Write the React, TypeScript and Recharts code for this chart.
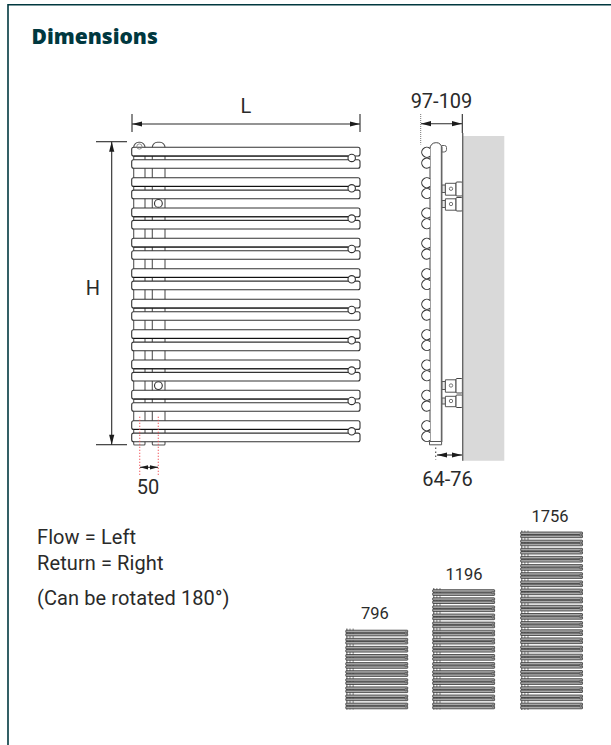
import React from 'react';
import { ComposedChart, XAxis, YAxis, Scatter, ReferenceArea, ReferenceLine, ReferenceDot } from 'recharts';

const INK = '#333333';
const TEXT = '#2a2a2a';
const TEAL = '#00383f';
const RED = '#f0474d';

// front elevation, top of each pair of rails
const railTops = [147.3, 177.7, 208, 238.3, 268.7, 299.3, 329.7, 360, 390.3, 420.7];
const railLeft = 131.7;
const railRight = 360;
const columns = [[133.7, 145], [152.3, 165]];
const valveDots = [{ x: 158.4, y: 203.4 }, { x: 158.4, y: 385.6 }];

// small elevations, top of each pair of rails
const mini796 = [630.2, 638.3, 646.4, 654.5, 662.6, 670.7, 678.8, 686.9, 695, 703.1];
const mini1196 = [589.7, 597.8, 605.9, 614, 622.1, 630.2, 638.3, 646.4, 654.5, 662.6, 670.7, 678.8, 686.9, 695, 703.1];
const mini1756 = [532, 540.1, 548.3, 556.4, 564.6, 572.7, 580.9, 589, 597.2, 605.3, 613.5, 621.6, 629.8, 637.9, 646.1, 654.2, 662.4, 670.5, 678.7, 686.8, 695, 703.1];

// side elevation
const bracketRows = [[182, 195.5], [197.5, 210.5], [378.5, 392.5], [395, 407]];

const dimensionLines = [
  [132, 114, 132, 132], [360, 114, 360, 132], [132, 124, 360, 124],
  [96, 141.7, 127, 141.7], [96, 444.7, 127, 444.7], [111.7, 141.7, 111.7, 444.7],
  [140, 467.3, 158, 467.3],
  [462.3, 114, 462.3, 133], [421, 123.7, 462, 123.7],
  [437, 455, 462, 455],
];
const arrowHeads = [
  { x: 132, y: 124, dir: 'left' }, { x: 360, y: 124, dir: 'right' },
  { x: 111.7, y: 141.7, dir: 'up' }, { x: 111.7, y: 444.7, dir: 'down' },
  { x: 140, y: 467.3, dir: 'left', size: 0.8 }, { x: 158, y: 467.3, dir: 'right', size: 0.8 },
  { x: 421, y: 123.7, dir: 'left' }, { x: 462, y: 123.7, dir: 'right' },
  { x: 437, y: 455, dir: 'left' }, { x: 462, y: 455, dir: 'right' },
];
const redGuides = [139.7, 158.3];

const labels = [
  { x: 246, y: 106, text: 'L', size: 20 },
  { x: 93, y: 288, text: 'H', size: 20 },
  { x: 148, y: 487, text: '50', size: 20 },
  { x: 441.5, y: 101, text: '97-109', size: 20 },
  { x: 447.5, y: 479, text: '64-76', size: 20 },
  { x: 375, y: 613, text: '796', size: 16.5 },
  { x: 464, y: 574, text: '1196', size: 16.5 },
  { x: 550, y: 516, text: '1756', size: 16.5 },
];
const notes = [
  { y: 536.5, text: 'Flow = Left' },
  { y: 563, text: 'Return = Right' },
  { y: 598, text: '(Can be rotated 180°)' },
];

const textAt = (item: any, anchor: string, family: string, fill: string, weight = 400, spacing = 0) => (
  <ReferenceDot
    key={item.text}
    x={item.x}
    y={item.y}
    r={0}
    shape={(p: any) => (
      <text x={p.cx} y={p.cy} textAnchor={anchor} dominantBaseline="central" fontFamily={family} fontSize={item.size} fontWeight={weight} letterSpacing={spacing} fill={fill}>
        {item.text}
      </text>
    )}
  />
);

const arrowPath = (cx: number, cy: number, dir: string, k: number) => {
  const l = 10 * k;
  const w = 2.6 * k;
  if (dir === 'left') return `M${cx},${cy}L${cx + l},${cy - w}L${cx + l},${cy + w}Z`;
  if (dir === 'right') return `M${cx},${cy}L${cx - l},${cy - w}L${cx - l},${cy + w}Z`;
  if (dir === 'up') return `M${cx},${cy}L${cx - w},${cy + l}L${cx + w},${cy + l}Z`;
  return `M${cx},${cy}L${cx - w},${cy - l}L${cx + w},${cy - l}Z`;
};

const seg = (l: number[], key: string, stroke = TEXT, w = 1, dash?: string) => (
  <ReferenceLine key={key} segment={[{ x: l[0], y: l[1] }, { x: l[2], y: l[3] }]} stroke={stroke} strokeWidth={w} strokeDasharray={dash} />
);

const area = (key: string, x1: number, x2: number, y1: number, y2: number, fill: string, stroke: string, w: number, radius: any = 0) => (
  <ReferenceArea key={key} x1={x1} x2={x2} y1={y1} y2={y2} fill={fill} fillOpacity={1} stroke={stroke} strokeWidth={w} radius={radius} />
);

const hollowDot = (r: number, stroke: string, w: number, fill = '#fff') => (p: any) => (
  <circle cx={p.cx} cy={p.cy} r={r} fill={fill} stroke={stroke} strokeWidth={w} />
);

// rail end seen from the side: the part right of the tube face is hidden
const railEndArc = (p: any) => (
  <path d={`M${p.cx + 3.2},${p.cy - 3.8}A5,5 0 1 0 ${p.cx + 3.2},${p.cy + 3.8}`} fill="#fff" stroke="#333" strokeWidth={1.1} />
);

const miniRadiator = (name: string, tops: number[], left: number, right: number, bottom: number) => (
  <React.Fragment key={name}>
    {area(`${name}-c1`, left + 0.6, left + 1.6, tops[0] - 1.6, bottom, '#555', 'none', 0)}
    {area(`${name}-c2`, left + 3.8, left + 4.6, tops[0] - 1.6, bottom, '#666', 'none', 0)}
    {area(`${name}-c3`, left + 6.9, left + 7.7, tops[0] - 1.6, bottom, '#666', 'none', 0)}
    {tops.flatMap((t, i) => [
      area(`${name}-a${i}`, left, right, t, t + 2.5, '#a9a9a9', '#2b2b2b', 0.75, 0.5),
      area(`${name}-b${i}`, left, right, t + 3.2, t + 5.7, '#a9a9a9', '#2b2b2b', 0.75, 0.5),
    ])}
    <Scatter
      name={`${name}-ends`}
      data={tops.map(t => ({ x: right - 1.8, y: t + 2.9 }))}
      dataKey="y"
      isAnimationActive={false}
      shape={hollowDot(1.3, '#444', 0.5, '#8a8a8a')}
    />
  </React.Fragment>
);

export default function App() {
  return (
    <div style={{ position: 'absolute', left: 0, top: 0, width: 611, height: 745, background: '#fff' }}>
      <ComposedChart width={611} height={745} margin={{ top: 0, right: 0, bottom: 0, left: 0 }}>
        <XAxis type="number" dataKey="x" domain={[0, 611]} hide />
        <YAxis type="number" dataKey="y" domain={[0, 745]} reversed hide />

        {/* page frame */}
        {seg([8, 4.7, 611, 4.7], 'frame-top', TEAL, 1.6)}
        {seg([8, 4, 8, 745], 'frame-left', TEAL, 1.6)}

        {/* wall */}
        {area('wall', 462.7, 504.3, 136, 460.7, '#d9d9d9', 'none', 0)}
        {seg([462.7, 133, 462.7, 460.7], 'wall-line', '#666', 1.4)}

        {/* front elevation */}
        {columns.map((c, i) => area(`col-${i}`, c[0], c[1], 142.3, 445, '#fff', '#555', 1.1, [5, 5, 1, 1]))}
        <ReferenceDot x={139.4} y={146.5} r={2.6} fill="none" stroke="#777" strokeWidth={0.8} />
        {railTops.flatMap((t, i) => [
          area(`rail-a${i}`, railLeft, railRight, t, t + 8.7, '#fff', INK, 1.1, 2),
          area(`rail-b${i}`, railLeft, railRight, t + 12.4, t + 21, '#fff', INK, 1.1, 2),
          seg([railLeft + 2, t + 8.8, railRight - 12, t + 8.8], `rail-l${i}`, '#111', 1),
        ])}
        <Scatter
          name="rail-ends"
          data={railTops.map(t => ({ x: 351.7, y: t + 10.6 }))}
          dataKey="y"
          isAnimationActive={false}
          shape={hollowDot(3.7, INK, 1.1)}
        />
        <Scatter name="valves" data={valveDots} dataKey="y" isAnimationActive={false} shape={hollowDot(3.9, INK, 1.1)} />

        {/* side elevation */}
        {area('tube', 430, 441.6, 142.7, 441.5, '#fff', '#444', 1, [6, 5, 0, 0])}
        {seg([441.6, 147, 441.6, 442], 'tube-r', '#666', 1.6)}
        {area('tube-cap', 429.5, 441.6, 441.5, 444.8, '#fff', '#555', 1)}
        {area('knob', 441.8, 446.5, 145.5, 152, '#fff', '#555', 0.9, [0, 2, 3, 0])}
        <Scatter
          name="side-ends"
          data={railTops.flatMap(t => [{ x: 426.8, y: t + 5 }, { x: 426.8, y: t + 15.8 }])}
          dataKey="y"
          isAnimationActive={false}
          shape={railEndArc}
        />
        {bracketRows.flatMap((b, i) => [
          area(`br-a${i}`, 441.8, 445.4, b[0] + 3, b[1] - 3, '#e6e6e6', '#444', 0.9),
          area(`br-b${i}`, 445.4, 456, b[0] + 1.3, b[1] - 0.3, '#fff', '#555', 1),
          area(`br-c${i}`, 456, 462.4, b[0], b[1] + 0.5, '#fff', '#444', 1, 1),
        ])}
        <Scatter
          name="bracket-screws"
          data={bracketRows.map(b => ({ x: 451, y: (b[0] + b[1]) / 2 }))}
          dataKey="y"
          isAnimationActive={false}
          shape={hollowDot(1.7, '#555', 0.8)}
        />
        {seg([420.7, 114, 420.7, 144.5], 'guide-97', '#777', 1, '1 1')}
        {seg([435.7, 447.5, 435.7, 460], 'guide-64', '#555', 1.2, '1.5 2.5')}

        {/* dimension lines */}
        {dimensionLines.map((l, i) => seg(l, `dim-${i}`, TEXT, 1.1))}
        {arrowHeads.map((a, i) => (
          <ReferenceDot
            key={`arrow-${i}`}
            x={a.x}
            y={a.y}
            r={0}
            shape={(p: any) => <path d={arrowPath(p.cx, p.cy, a.dir, a.size || 1)} fill="#1c1c1c" />}
          />
        ))}
        {redGuides.map((x, i) => seg([x, 416.7, x, 475], `red-${i}`, RED, 1.2, '1 2'))}

        {/* small elevations */}
        {miniRadiator('m796', mini796, 345.8, 407.7, 709.5)}
        {miniRadiator('m1196', mini1196, 432.7, 494.6, 709.5)}
        {miniRadiator('m1756', mini1756, 520.7, 582.5, 710)}

        {/* text */}
        {labels.map(l => textAt(l, 'middle', 'Roboto', TEXT))}
        {notes.map(n => textAt({ x: 37, y: n.y, text: n.text, size: 20 }, 'start', 'Roboto', TEXT, 400, 0.1))}
        {textAt({ x: 31.5, y: 36, text: 'Dimensions', size: 21 }, 'start', 'Open Sans', TEAL, 800)}
      </ComposedChart>
    </div>
  );
}
